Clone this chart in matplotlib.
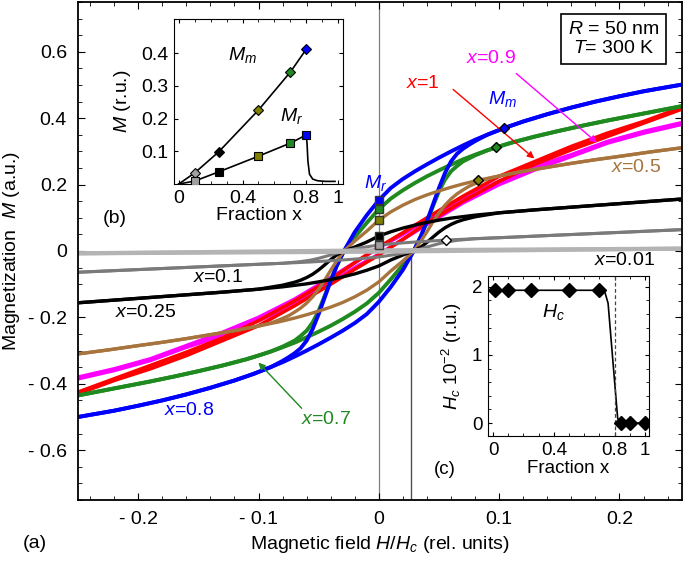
import numpy as np
import matplotlib.pyplot as plt
from matplotlib.ticker import MultipleLocator

plt.rcParams['font.family'] = ['Liberation Sans', 'DejaVu Sans']
plt.rcParams['mathtext.fontset'] = 'custom'
plt.rcParams['mathtext.rm'] = 'Liberation Sans'
plt.rcParams['mathtext.it'] = 'Liberation Sans:italic'
plt.rcParams['font.size'] = 14

# descending (upper) branch of each loop; the ascending branch is -M(-H)
h_08 = [0.25, 0.22, 0.2, 0.18, 0.16, 0.14, 0.12, 0.104, 0.09, 0.08, 0.07, 0.06, 0.05, 0.04, 0.03, 0.02, 0.01,
        0.0, -0.01, -0.02, -0.029, -0.035, -0.04, -0.045, -0.05, -0.055, -0.06, -0.065, -0.07, -0.075, -0.08,
        -0.09, -0.104, -0.12, -0.14, -0.16, -0.18, -0.2, -0.22, -0.25]
m_08 = [0.50, 0.481, 0.466, 0.45, 0.432, 0.412, 0.39, 0.37, 0.35, 0.335, 0.318, 0.30, 0.281, 0.261, 0.24, 0.217,
        0.19, 0.153, 0.108, 0.057, 0.0, -0.045, -0.09, -0.14, -0.19, -0.235, -0.27, -0.293, -0.308, -0.32, -0.331,
        -0.35, -0.37, -0.39, -0.412, -0.432, -0.45, -0.466, -0.481, -0.50]

h_07 = [0.25, 0.23, 0.21, 0.19, 0.17, 0.15, 0.13, 0.11, 0.0975, 0.09, 0.08, 0.07, 0.06, 0.05, 0.04, 0.03, 0.02,
        0.01, 0.0, -0.01, -0.02, -0.029, -0.035, -0.04, -0.045, -0.05, -0.055, -0.06, -0.065, -0.07, -0.08, -0.09,
        -0.0975, -0.11, -0.13, -0.15, -0.17, -0.19, -0.21, -0.23, -0.25]
m_07 = [0.435, 0.421, 0.407, 0.393, 0.378, 0.362, 0.345, 0.326, 0.312, 0.303, 0.29, 0.276, 0.26, 0.243, 0.225,
        0.205, 0.183, 0.158, 0.126, 0.085, 0.042, 0.0, -0.045, -0.088, -0.135, -0.18, -0.215, -0.24, -0.256, -0.27,
        -0.288, -0.303, -0.312, -0.326, -0.345, -0.362, -0.378, -0.393, -0.407, -0.421, -0.435]

h_05 = [0.25, 0.225, 0.2, 0.18, 0.16, 0.14, 0.12, 0.1, 0.0825, 0.07, 0.06, 0.05, 0.04, 0.03, 0.02, 0.01, 0.0,
        -0.01, -0.02, -0.029, -0.035, -0.04, -0.045, -0.05, -0.055, -0.06, -0.065, -0.07, -0.075, -0.0825, -0.09,
        -0.1, -0.12, -0.14, -0.16, -0.18, -0.2, -0.225, -0.25]
m_05 = [0.31, 0.298, 0.285, 0.275, 0.264, 0.252, 0.24, 0.226, 0.213, 0.202, 0.192, 0.181, 0.169, 0.155, 0.138,
        0.118, 0.093, 0.06, 0.03, 0.0, -0.03, -0.058, -0.088, -0.115, -0.138, -0.157, -0.172, -0.184, -0.195,
        -0.207, -0.217, -0.226, -0.24, -0.252, -0.264, -0.275, -0.285, -0.298, -0.31]

h_025 = [0.25, 0.22, 0.19, 0.16, 0.13, 0.1, 0.08, 0.06, 0.05, 0.04, 0.03, 0.02, 0.01, 0.0, -0.01, -0.02, -0.029,
         -0.035, -0.04, -0.045, -0.05, -0.055, -0.06, -0.065, -0.07, -0.08, -0.1, -0.13, -0.16, -0.19, -0.22, -0.25]
m_025 = [0.156, 0.148, 0.14, 0.132, 0.124, 0.115, 0.108, 0.099, 0.093, 0.086, 0.078, 0.069, 0.058, 0.045, 0.027,
         0.012, 0.0, -0.012, -0.026, -0.042, -0.057, -0.07, -0.08, -0.088, -0.094, -0.103, -0.115, -0.124, -0.132,
         -0.14, -0.148, -0.156]

h_01 = [0.25, 0.2, 0.15, 0.1, 0.08, 0.056, 0.03, 0.015, 0.0, -0.015, -0.029, -0.04, -0.05, -0.056, -0.065, -0.08,
        -0.1, -0.15, -0.2, -0.25]
m_01 = [0.064, 0.056, 0.048, 0.04, 0.037, 0.033, 0.027, 0.023, 0.018, 0.01, 0.0, -0.012, -0.022, -0.027, -0.032,
        -0.037, -0.04, -0.048, -0.056, -0.064]

h_001 = [0.25, 0.0, -0.25]
m_001 = [0.007, 0.002, -0.007]

h_1 = [0.25, 0.22, 0.19, 0.16, 0.13, 0.1, 0.07, 0.04, 0.02, 0.0, -0.02, -0.04, -0.07, -0.1, -0.13, -0.16,
       -0.19, -0.22, -0.25]
m_1 = [0.43, 0.39, 0.355, 0.315, 0.27, 0.225, 0.165, 0.10, 0.055, 0.012, -0.035, -0.085, -0.15, -0.21, -0.262,
       -0.305, -0.345, -0.385, -0.425]

h_09 = [0.25, 0.22, 0.19, 0.16, 0.13, 0.1, 0.07, 0.04, 0.02, 0.0, -0.02, -0.04, -0.07, -0.1, -0.13, -0.16,
        -0.19, -0.22, -0.25]
m_09 = [0.385, 0.36, 0.33, 0.29, 0.255, 0.21, 0.16, 0.095, 0.05, 0.01, -0.035, -0.08, -0.145, -0.2, -0.245,
        -0.285, -0.325, -0.355, -0.38]

# remanence squares at H=0 and maximum magnetisation diamonds
mr_vals = [0.153, 0.126, 0.093, 0.045, 0.018]
mr_colors = ['#0000ff', '#1f8a1f', '#808000', '#000000', '#a0a0a0']
mm_h = [0.104, 0.0975, 0.0825, 0.056]
mm_m = [0.37, 0.312, 0.213, 0.033]
mm_colors = ['#0000ff', '#1f8a1f', '#808000', '#ffffff']

# inset (b)
frac_b = [0.1, 0.25, 0.5, 0.7, 0.8]
mm_b = [0.034, 0.098, 0.226, 0.342, 0.412]
mr_b = [0.009, 0.037, 0.085, 0.125, 0.15]
col_b = ['#a0a0a0', '#000000', '#808000', '#1f8a1f', '#0000ff']
mr_tail_x = [0.8, 0.805, 0.81, 0.82, 0.84, 0.87, 0.92, 0.98]
mr_tail_y = [0.15, 0.12, 0.07, 0.03, 0.015, 0.01, 0.008, 0.008]

# inset (c)
frac_c = [0.01, 0.1, 0.25, 0.5, 0.7, 0.84, 0.9, 1.0]
hc_c = [1.95, 1.95, 1.95, 1.95, 1.95, 0.0, 0.0, 0.0]
line_c_x = [0.0, 0.7, 0.735, 0.757, 0.82, 0.84, 1.0]
line_c_y = [1.95, 1.95, 1.93, 1.76, 0.07, 0.0, 0.0]

hc_main = 0.027

fig = plt.figure(figsize=(6.85, 5.66), dpi=100)
ax = fig.add_axes([0.1139, 0.1166, 0.8818, 0.8799])

loops = [
    (h_09, m_09, '#ff00ff', 2.6),
    (h_1, m_1, '#ff0000', 2.6),
    (h_07, m_07, '#1f8a1f', 2.8),
    (h_08, m_08, '#0000ff', 2.8),
    (h_05, m_05, '#a8743e', 2.4),
    (h_025, m_025, '#000000', 2.4),
    (h_01, m_01, '#7a7a7a', 2.2),
    (h_001, m_001, '#b4b4b4', 3.0),
]
for h, m, c, lw in loops:
    h = np.array(h)
    m = np.array(m)
    ax.plot(h, m, color=c, lw=lw, solid_joinstyle='round')
    ax.plot(-h, -m, color=c, lw=lw, solid_joinstyle='round')

ax.axvline(0, color='#808080', lw=0.9, zorder=1)
ax.plot([hc_main, hc_main], [-0.75, 0], color='#505050', lw=1.0, zorder=1)

for v, c in zip(mr_vals, mr_colors):
    ax.plot(0, v, 's', ms=5.5, mfc=c, mec='#333333', mew=1.0, zorder=5)
for h, m, c in zip(mm_h, mm_m, mm_colors):
    ax.plot(h, m, 'D', ms=5, mfc=c, mec='black', mew=1.0, zorder=5)

ax.set_xlim(-0.25, 0.252)
ax.set_ylim(-0.75, 0.75)
ax.set_xticks([-0.2, -0.1, 0, 0.1, 0.2])
ax.set_xticklabels(['- 0.2', '- 0.1', '0', '0.1', '0.2'])
ax.set_yticks([-0.6, -0.4, -0.2, 0, 0.2, 0.4, 0.6])
ax.set_yticklabels(['- 0.6', '- 0.4', '- 0.2', '0', '0.2', '0.4', '0.6'])
ax.xaxis.set_minor_locator(MultipleLocator(0.02))
ax.yaxis.set_minor_locator(MultipleLocator(0.05))
ax.tick_params(which='both', direction='in', top=True, right=True, labelsize=14)
ax.tick_params(which='major', length=5, pad=8)
ax.tick_params(which='minor', length=3)
for s in ax.spines.values():
    s.set_linewidth(1.3)
ax.set_xlabel('Magnetic field $H/H_c$ (rel. units)', fontsize=14, labelpad=4)
ax.set_ylabel('Magnetization  $M$ (a.u.)', fontsize=14, labelpad=4)

ax.text(0.195, 0.639, '$R$ = 50 nm\n$T$= 300 K', ha='center', va='center', fontsize=14,
        linespacing=1.2, bbox=dict(boxstyle='square,pad=0.35', fc='white', ec='black', lw=1.2))
ax.text(0.093, 0.579, '$x$=0.9', color='#ff00ff', ha='center', va='center', fontsize=14)
ax.text(0.037, 0.504, '$x$=1', color='#ff0000', ha='center', va='center', fontsize=14)
ax.text(0.1025, 0.459, '$M_m$', color='#0000ff', ha='center', va='center', fontsize=14)
ax.text(0.214, 0.25, '$x$=0.5', color='#a8743e', ha='center', va='center', fontsize=14)
ax.text(-0.0025, 0.204, '$M_r$', color='#0000ff', ha='center', va='center', fontsize=14)
ax.text(-0.134, -0.081, '$x$=0.1', color='black', ha='center', va='center', fontsize=14)
ax.text(-0.194, -0.186, '$x$=0.25', color='black', ha='center', va='center', fontsize=14)
ax.text(-0.158, -0.48, '$x$=0.8', color='#0000ff', ha='center', va='center', fontsize=14)
ax.text(-0.044, -0.507, '$x$=0.7', color='#1f8a1f', ha='center', va='center', fontsize=14)
ax.text(0.204, -0.03, '$x$=0.01', color='black', ha='center', va='center', fontsize=14)

ax.annotate('', xy=(0.131, 0.273), xytext=(0.06, 0.492),
            arrowprops=dict(arrowstyle='-|>', color='#ff0000', lw=1.0, mutation_scale=10))
ax.annotate('', xy=(0.183, 0.321), xytext=(0.1125, 0.54),
            arrowprops=dict(arrowstyle='-|>', color='#ff00ff', lw=1.0, mutation_scale=10))
ax.annotate('', xy=(-0.1017, -0.33), xytext=(-0.0625, -0.48),
            arrowprops=dict(arrowstyle='-|>', color='#1f8a1f', lw=1.0, mutation_scale=10))

fig.text(35 / 685, 1 - 543 / 566, '(a)', ha='center', va='center', fontsize=14)

# inset (b)
axb = fig.add_axes([0.2540, 0.6749, 0.2467, 0.2915])
axb.plot([0] + frac_b, [0] + mm_b, color='black', lw=1.2)
axb.plot([0] + frac_b, [0] + mr_b, color='black', lw=1.2)
axb.plot(mr_tail_x, mr_tail_y, color='black', lw=1.2)
for f, v, c in zip(frac_b, mm_b, col_b):
    axb.plot(f, v, 'D', ms=5, mfc=c, mec='black', mew=0.8, zorder=5)
for f, v, c in zip(frac_b, mr_b, col_b):
    axb.plot(f, v, 's', ms=5.5, mfc=c, mec='black', mew=0.8, zorder=5)
axb.set_xlim(-0.03, 1.03)
axb.set_ylim(0, 0.504)
axb.set_xticks([0, 0.4, 0.8, 1.0])
axb.set_xticklabels(['0', '0.4', '0.8', '1'])
axb.set_yticks([0.1, 0.2, 0.3, 0.4])
axb.set_yticklabels(['0.1', '0.2', '0.3', '0.4'])
axb.xaxis.set_minor_locator(MultipleLocator(0.1))
axb.tick_params(which='both', direction='in', top=True, right=True, labelsize=14)
axb.tick_params(which='major', length=3, pad=4)
axb.tick_params(which='minor', length=2)
axb.set_xlabel('Fraction x', fontsize=14, labelpad=0)
axb.set_ylabel('$M$ (r.u.)', fontsize=14, labelpad=6)
axb.text(0.40, 0.394, '$M_m$', ha='center', va='center', fontsize=14)
axb.text(0.705, 0.209, '$M_r$', ha='center', va='center', fontsize=14)
fig.text(115 / 685, 1 - 218 / 566, '(b)', ha='center', va='center', fontsize=14)

# inset (c)
axc = fig.add_axes([0.7124, 0.2297, 0.2350, 0.2827])
axc.plot(line_c_x, line_c_y, color='black', lw=1.2)
axc.plot(frac_c, hc_c, 'D', ms=7, color='black', zorder=5)
axc.axvline(0.8, color='#444444', lw=0.9, ls=(0, (3, 2)))
axc.set_xlim(-0.033, 1.026)
axc.set_ylim(-0.19, 2.16)
axc.set_xticks([0, 0.4, 0.8, 1.0])
axc.set_xticklabels(['0', '0.4', '0.8', '1'])
axc.set_yticks([0, 1, 2])
axc.xaxis.set_minor_locator(MultipleLocator(0.1))
axc.yaxis.set_minor_locator(MultipleLocator(0.2))
axc.tick_params(which='both', direction='in', top=True, right=True, labelsize=13.5)
axc.tick_params(which='major', length=3, pad=4)
axc.tick_params(which='minor', length=2)
axc.set_xlabel('Fraction x', fontsize=13.5, labelpad=1)
axc.set_ylabel('$H_c$ 10$^{-2}$ (r.u.)', fontsize=13.5, labelpad=6)
axc.text(0.395, 1.63, '$H_c$', ha='center', va='center', fontsize=14)
fig.text(445 / 685, 1 - 470 / 566, '(c)', ha='center', va='center', fontsize=13.5)

fig.savefig('out.png', dpi=100)
